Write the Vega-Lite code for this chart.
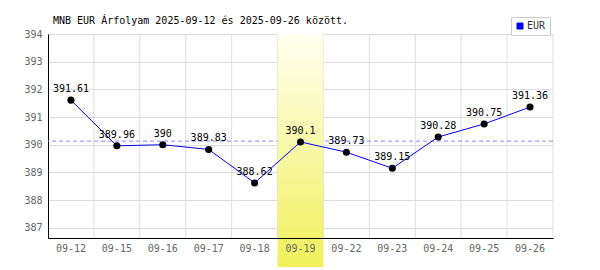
{
  "$schema": "https://vega.github.io/schema/vega-lite/v6.json",
  "width": 505,
  "height": 204,
  "autosize": "none",
  "padding": {"left": 48, "top": 34, "right": 47, "bottom": 32},
  "background": "white",
  "config": {
    "view": {"stroke": null},
    "font": "DejaVu Sans Mono",
    "axisY": {
      "title": null, "values": [387, 388, 389, 390, 391, 392, 393, 394],
      "ticks": false, "domainColor": "#000000", "gridColor": "#dddddd",
      "labelColor": "#666666", "labelFont": "DejaVu Sans Mono",
      "labelFontSize": 10, "labelPadding": 6,
      "labelOverlap": false, "labelFlush": false, "labelBound": false
    }
  },
  "title": {
    "text": "MNB EUR Árfolyam 2025-09-12 és 2025-09-26 között.",
    "anchor": "start",
    "frame": "group",
    "dx": 5,
    "offset": -17,
    "baseline": "alphabetic",
    "font": "DejaVu Sans Mono",
    "fontSize": 10,
    "fontWeight": "normal",
    "color": "#000000"
  },
  "datasets": {
    "rates": [
      {"date": "09-12", "rate": 391.61},
      {"date": "09-15", "rate": 389.96},
      {"date": "09-16", "rate": 390.00},
      {"date": "09-17", "rate": 389.83},
      {"date": "09-18", "rate": 388.62},
      {"date": "09-19", "rate": 390.10},
      {"date": "09-22", "rate": 389.73},
      {"date": "09-23", "rate": 389.15},
      {"date": "09-24", "rate": 390.28},
      {"date": "09-25", "rate": 390.75},
      {"date": "09-26", "rate": 391.36}
    ],
    "highlight": [{"date": "09-19"}],
    "avg": [{"avg": 390.13}]
  },
  "data": {"name": "rates"},
  "layer": [
    {
      "mark": {"type": "rule", "color": "#dddddd", "strokeWidth": 1},
      "encoding": {
        "x": {
          "field": "date", "type": "ordinal", "bandPosition": 1,
          "scale": {"paddingInner": 0, "paddingOuter": 0},
          "axis": {
            "title": null, "grid": false, "ticks": false, "domain": true,
            "domainColor": "#000000", "labelAngle": 0, "labelPadding": 5,
            "labelColor": "#666666", "labelFont": "DejaVu Sans Mono",
            "labelFontSize": 10, "zindex": 1
          }
        }
      }
    },
    {
      "data": {"name": "avg"},
      "mark": {"type": "rule", "color": "#8888ff", "strokeDash": [4, 3], "strokeWidth": 1},
      "encoding": {
        "y": {
          "field": "avg", "type": "quantitative",
          "scale": {"domain": [386.63, 394], "nice": false, "zero": false}
        }
      }
    },
    {
      "data": {"name": "highlight"},
      "mark": {
        "type": "rect",
        "fill": {
          "gradient": "linear", "x1": 0, "y1": 0, "x2": 0, "y2": 1,
          "stops": [
            {"offset": 0, "color": "#fffff0"},
            {"offset": 1, "color": "#f0f05a"}
          ]
        }
      },
      "encoding": {
        "x": {"field": "date", "type": "ordinal"},
        "y": {"datum": 394, "type": "quantitative"},
        "y2": {"datum": 385.58}
      }
    },
    {
      "mark": {"type": "line", "strokeWidth": 1},
      "encoding": {
        "x": {"field": "date", "type": "ordinal"},
        "y": {"field": "rate", "type": "quantitative"},
        "color": {
          "datum": "EUR",
          "scale": {"domain": ["EUR"], "range": ["#0000ff"]},
          "legend": {
            "title": null,
            "orient": "none",
            "legendX": 463,
            "legendY": -17,
            "symbolType": "square",
            "symbolSize": 36,
            "labelFont": "DejaVu Sans Mono",
            "labelFontSize": 10,
            "labelColor": "#333333",
            "labelOffset": 2,
            "labelExpr": "datum.label + '   '",
            "padding": 4,
            "fillColor": "white",
            "strokeColor": "#cccccc",
            "encode": {
              "symbols": {"update": {"fill": {"value": "#0000ff"}, "stroke": {"value": "#000080"}, "strokeWidth": {"value": 1}}}
            }
          }
        }
      }
    },
    {
      "mark": {"type": "point", "filled": true, "color": "#000000", "size": 50, "opacity": 1},
      "encoding": {
        "x": {"field": "date", "type": "ordinal"},
        "y": {"field": "rate", "type": "quantitative"}
      }
    },
    {
      "mark": {"type": "text", "dy": -11, "font": "DejaVu Sans Mono", "fontSize": 10, "color": "#000000"},
      "encoding": {
        "x": {"field": "date", "type": "ordinal"},
        "y": {"field": "rate", "type": "quantitative"},
        "text": {"field": "rate", "type": "quantitative"}
      }
    }
  ]
}
